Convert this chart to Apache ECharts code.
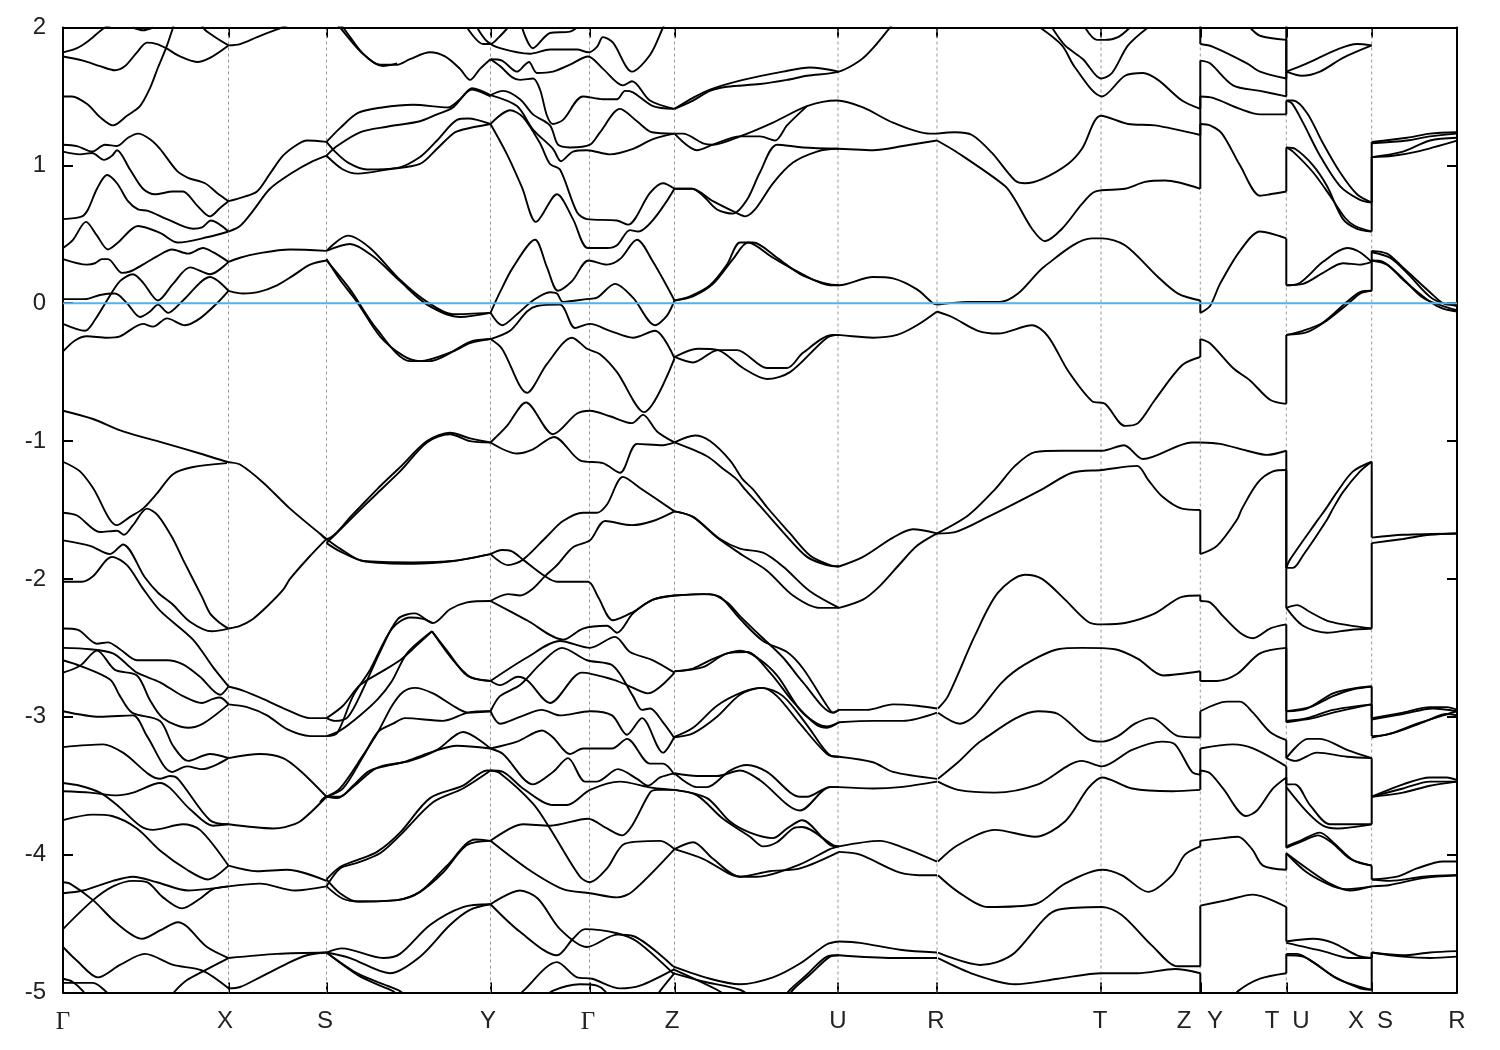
<!DOCTYPE html>
<html><head><meta charset="utf-8">
<style>html,body{margin:0;padding:0;background:#fff}#c{width:1500px;height:1050px}</style>
<script src="https://cdn.jsdelivr.net/npm/echarts@6/dist/echarts.min.js"></script>
</head><body><div id="c"></div>
<script>
// k-path nodes (path distance) and energy ticks
const nodeK=[165.5,263.5,427.5,526.5,611.5,775,874,1038,1137.3,1223.3,1308.7];
const tickK=[0,165.5,263.5,427.5,526.5,611.5,775,874,1038,1137.3,1223.3,1308.7,1394];
const labelK=[0,162,262,425,525,609,775,873,1037,1121,1152,1209,1238,1293,1322,1394];
const labelText=['Γ','X','S','Y','Γ','Z','U','R','T','Z','Y','T','U','X','S','R'];
// Γ-X
const gx1=[0,1.82,14,1.85,25,1.9,42,2,55,2.03];
const gx2=[70,2,80,1.98,90,2];
const gx3=[0,1.79,20,1.76,37,1.72,52,1.69,62,1.72,74,1.82,84,1.89,94,1.88,103,1.85,117,1.79,134,1.75,147,1.78,165.5,1.87];
const gx4=[0,1.5,9,1.5,25,1.44,37,1.35,50,1.29,64,1.36,77,1.43,87,1.56,95,1.71,103,1.85,110,2,116,2.15];
const gx5=[130,2.2,140,2,150,1.94,165.5,1.87];
const gx6=[0,1.15,14,1.14,29,1.1,42,1.15,54,1.14,65,1.2,75,1.23,87,1.19,97,1.12,114,.96,125,.91,142,.87,154,.8,165.5,.74];
const gx7=[0,1.1,17,1.08,29,1.09,41,1.04,49,1.07,54,1.11,67,.97,80,.83,92,.79,110,.81,120,.81,134,.71,147,.63,157,.69,165.5,.74];
const gx8=[0,.61,19,.63,25,.68,34,.83,44,.93,54,.87,65,.74,75,.68,85,.67,104,.61,130,.54,139,.55,148,.6,165.5,.52];
const gx9=[0,.4,10,.46,23,.59,34,.49,45,.39,55,.44,75,.56,97,.51,115,.44,145,.48,165.5,.52];
const gx10=[0,.32,24,.28,32,.29,39,.32,45,.32,59,.22,67,.23,80,.28,94,.34,109,.39,125,.36,140,.4,150,.37,165.5,.3];
const gx11=[0,.03,22,.03,37,.06,52,.07,64,0,77,-.1,87,-.06,95,-.01,105,-.07,120,.02,147,.19,165.5,.09];
const gx12=[0,-.15,22,-.2,32,-.12,44,.02,57,.16,70,.21,80,.15,95,.02,110,.14,127,.26,147,.21,165.5,.3];
const gx13=[0,-.35,12,-.27,24,-.24,44,-.25,57,-.24,80,-.15,90,-.17,104,-.11,122,-.16,137,-.11,154,0,165.5,.09];
const gx14=[0,-.78,30,-.84,60,-.93,104,-1.02,137,-1.09,164,-1.15,177,-1.17,200,-1.3,227,-1.49,263.5,-1.71];
const gx15=[0,-1.15,17,-1.22,30,-1.34,54,-1.61,67,-1.55,80,-1.49,94,-1.38,110,-1.24,129,-1.19,164,-1.16];
const gx16=[0,-1.52,14,-1.54,37,-1.66,54,-1.65,61,-1.68,70,-1.61,84,-1.49,95,-1.54,110,-1.71,120,-1.86,139,-2.13,147,-2.25,157,-2.32,165.5,-2.36];
const gx17=[0,-1.72,27,-1.76,47,-1.82,60,-1.75,82,-1.99,95,-2.1,109,-2.18,127,-2.31,149,-2.38,165.5,-2.36];
const gx18=[0,-2.02,19,-2.02,30,-1.98,49,-1.84,64,-1.9,80,-2.07,97,-2.23,130,-2.44,150,-2.64,165.5,-2.78];
const gx19=[0,-2.36,15,-2.37,34,-2.47,45,-2.46,57,-2.51,74,-2.59,104,-2.59,120,-2.62,137,-2.71,157,-2.84,165.5,-2.78];
const gx20=[0,-2.5,27,-2.51,50,-2.54,64,-2.62,74,-2.68,97,-2.75,120,-2.85,139,-2.9,150,-2.87,157,-2.86,165.5,-2.91];
const gx21=[0,-2.59,17,-2.63,47,-2.73,57,-2.85,69,-2.97,97,-3.03,110,-3.21,125,-3.32,147,-3.27,165.5,-3.3];
const gx22=[0,-2.68,17,-2.63,34,-2.52,52,-2.66,74,-2.7,87,-2.88,100,-3.01,125,-3.08,140,-3.05,165.5,-2.91];
const gx23=[0,-2.96,37,-3,70,-2.99,84,-3.14,109,-3.4,124,-3.36,139,-3.38,165.5,-3.3];
const gx24=[0,-3.22,40,-3.2,60,-3.26,97,-3.45,107,-3.43,115,-3.45,147,-3.75,165.5,-3.78];
const gx25=[0,-3.48,17,-3.5,37,-3.55,54,-3.64,77,-3.79,90,-3.82,120,-3.78,137,-3.82,165.5,-4.08];
const gx26=[0,-3.54,27,-3.55,54,-3.57,70,-3.55,97,-3.48,127,-3.67,150,-3.79,165.5,-3.78];
const gx27=[0,-3.75,30,-3.71,49,-3.72,74,-3.81,97,-3.97,124,-4.11,145,-4.18,154,-4.15,165.5,-4.08];
const gx28=[0,-4.2,7,-4.21,30,-4.33,54,-4.5,79,-4.61,97,-4.55,115,-4.49,144,-4.67,165.5,-4.75];
const gx29=[0,-4.28,20,-4.26,50,-4.19,70,-4.16,94,-4.2,125,-4.26,144,-4.25,165.5,-4.23];
const gx30=[0,-4.54,30,-4.33,50,-4.23,70,-4.19,84,-4.2,100,-4.31,119,-4.39,137,-4.32,150,-4.25,165.5,-4.23];
const gx31=[0,-4.67,14,-4.77,35,-4.89,57,-4.8,82,-4.72,110,-4.8,139,-4.84,165.5,-4.97];
const gx32=[0,-4.9,9,-4.92,20,-4.99,25,-5.05];
const gx33=[0,-4.93,30,-4.93,44,-5,50,-5.05];
const gx34=[106,-5.05,112,-4.99,124,-4.91,139,-4.85,165.5,-4.75];
// X-S
const xs1=[165.5,1.87,177,1.88,194,1.93,204,1.96,219,2,235,2.05];
const xs2=[165.5,.74,180,.77,194,.81,207,.94,220,1.07,234,1.15,244,1.18,263.5,1.17];
const xs3=[165.5,.52,177,.56,190,.67,207,.83,230,.95,247,1.02,263.5,1.07];
const xs4=[165.5,.09,180,.07,195,.08,214,.13,230,.2,247,.28,263.5,.31];
const xs5=[165.5,.3,177,.33,194,.36,227,.39,263.5,.38];
const xs6=[165.5,-2.36,177,-2.34,190,-2.29,204,-2.2,220,-2.08,227,-2,245,-1.85,263.5,-1.71];
const xs7=[165.5,-2.78,180,-2.81,200,-2.87,224,-2.95,247,-3.01,263.5,-3.01];
const xs8=[165.5,-2.91,184,-2.93,204,-2.99,224,-3.09,247,-3.14,263.5,-3.14];
const xs9=[165.5,-3.3,197,-3.27,220,-3.3,237,-3.39,263.5,-3.58];
const xs10=[165.5,-3.78,210,-3.81,222,-3.8,237,-3.76,263.5,-3.58];
const xs11=[165.5,-4.08,194,-4.12,224,-4.11,263.5,-4.19];
const xs12=[165.5,-4.23,197,-4.21,232,-4.26,263.5,-4.23];
const xs13=[165.5,-4.75,214,-4.72,263.5,-4.71];
const xs14=[165.5,-4.97,177,-4.96,197,-4.89,224,-4.79,244,-4.73,263.5,-4.71];
// S-Y
const sy1=[270,2.05,277,2,297,1.83,317,1.73,334,1.73,347,1.77,367,1.82,382,1.79,397,1.7,407,1.62,417,1.7,427.5,1.77];
const sy2=[272,2.05,280,2,300,1.81,320,1.72,334,1.74];
const sy3=[263.5,1.17,277,1.27,295,1.38,319,1.42,350,1.44,385,1.42,397,1.48,409,1.56,427.5,1.51];
const sy4=[263.5,1.07,274,1.14,297,1.24,324,1.28,357,1.32,374,1.37,390,1.42,409,1.55,427.5,1.5];
const sy5=[263.5,1.17,272,1.1,285,1.02,304,.97,334,.98,357,1.06,374,1.18,394,1.33,405,1.34,427.5,1.3];
const sy6=[263.5,1.07,280,.97,295,.94,324,.97,357,1.01,374,1.12,390,1.23,400,1.26,427.5,1.3];
const sy7=[263.5,.38,285,.49,307,.4,337,.17,364,.01,390,-.08,427.5,-.07];
const sy8=[263.5,.38,287,.43,310,.34,337,.16,364,-.01,397,-.1,427.5,-.07];
const sy9=[263.5,.32,277,.17,294,.01,317,-.24,340,-.38,357,-.42,390,-.35,407,-.29,427.5,-.26];
const sy10=[263.5,.31,287,.1,314,-.19,347,-.42,367,-.42,385,-.37,407,-.28,427.5,-.26];
const sy11=[257,-1.67,263.5,-1.71,290,-1.53,314,-1.35,337,-1.19,364,-1,387,-.94,407,-.98,427.5,-1.01];
const sy12=[263.5,-1.74,290,-1.55,314,-1.38,337,-1.22,364,-1.01,387,-.95,407,-1,427.5,-1.01];
const sy13=[263.5,-1.71,277,-1.78,300,-1.87,350,-1.88,390,-1.87,427.5,-1.82];
const sy14=[263.5,-1.74,277,-1.8,300,-1.87,350,-1.89,390,-1.87,427.5,-1.82];
const sy15=[263.5,-3.01,272,-3.03,285,-3,300,-2.8,317,-2.53,335,-2.29,352,-2.25,370,-2.32,387,-2.22,404,-2.17,427.5,-2.16];
const sy16=[263.5,-3.14,274,-3.12,290,-2.85,307,-2.66,329,-2.36,347,-2.28,360,-2.29,370,-2.32];
const sy17=[263.5,-3.01,280,-2.92,297,-2.77,317,-2.68,337,-2.59,354,-2.48,369,-2.38];
const sy18=[263.5,-3.14,277,-3.1,297,-2.99,315,-2.87,329,-2.74,344,-2.54,369,-2.38];
const sy19=[369,-2.38,384,-2.52,404,-2.7,427.5,-2.74];
const sy20=[369,-2.38,389,-2.58,407,-2.71,427.5,-2.74];
const sy21=[263.5,-3.58,277,-3.52,300,-3.28,315,-3.11,329,-2.92,340,-2.82,352,-2.79,370,-2.83,390,-2.92,405,-2.97,427.5,-2.96];
const sy22=[263.5,-3.58,280,-3.52,300,-3.29,315,-3.11,330,-3.05,342,-3.01,380,-3.03,405,-2.97,427.5,-2.96];
const sy23=[257,-3.62,263.5,-3.58,277,-3.58,290,-3.5,307,-3.39,340,-3.33,367,-3.26,394,-3.21,427.5,-3.23];
const sy24=[263.5,-3.58,274,-3.59,290,-3.51,314,-3.37,347,-3.32,374,-3.24,400,-3.11,427.5,-3.23];
const sy25=[263.5,-4.18,277,-4.09,294,-4.04,314,-3.98,337,-3.84,367,-3.59,400,-3.5,424,-3.39,427.5,-3.39];
const sy26=[263.5,-4.23,277,-4.1,294,-4.06,317,-3.99,337,-3.86,370,-3.62,400,-3.52,427.5,-3.39];
const sy27=[263.5,-4.18,277,-4.28,294,-4.34,334,-4.33,357,-4.27,380,-4.13,404,-3.93,427.5,-3.9];
const sy28=[263.5,-4.23,280,-4.32,297,-4.34,334,-4.33,357,-4.27,384,-4.08,412,-3.89,427.5,-3.9];
const sy29=[263.5,-4.71,279,-4.68,320,-4.75,337,-4.72,367,-4.51,400,-4.38,427.5,-4.36];
const sy30=[263.5,-4.71,287,-4.75,327,-4.86,357,-4.74,387,-4.51,407,-4.4,427.5,-4.36];
const sy31=[263.5,-4.71,294,-4.86,324,-4.95,337,-4.99,345,-5.05];
const sy32=[263.5,-4.71,294,-4.87,317,-4.95,330,-4.99,338,-5.05];
// Y-Γ-Z
const yz1=[404,2,420,1.88,427.5,1.88,436,1.93,445,2];
const yz2=[414,2,424,1.9,437,1.85,467,1.81,487,1.84,514,1.84,525.5,1.82,534,1.86,540,1.93,550,1.89,569,1.68,587,1.8,600,2,606,2.1];
const yz3=[459,2,470,1.85,487,1.96,507,1.97,514,2];
const yz4=[427.5,1.77,439,1.76,454,1.68,462,1.73,466,1.75,474,1.67,490,1.68,507,1.73,525,1.79,540,1.7,560,1.58,569,1.61,587,1.47,611,1.41];
const yz5=[427.5,1.77,437,1.72,449,1.64,457,1.62,470,1.63,477,1.55,484,1.36,490,1.3,500,1.33,520,1.5,540,1.48,554,1.48,562,1.54,570,1.53,590,1.43,611,1.41];
const yz6=[427.5,1.51,440,1.54,457,1.48,470,1.37,487,1.29,495,1.15,507,1.13,527,1.15,537,1.24,557,1.41,574,1.32,589,1.24,611,1.23];
const yz7=[427.5,1.51,454,1.43,470,1.26,490,1.12,498,1.03,510,1.1,524,1.11,547,1.08,570,1.12,590,1.19,611,1.23];
const yz8=[427.5,1.3,447,1.4,460,1.35,477,1.16,487,1.01,497,.97,514,.66,524,.61,554,.6,565,.57,587,.8,600,.87,611.5,.83];
const yz9=[427.5,1.3,444,1.08,459,.84,473,.59,494,.79,510,.61,525,.4,544,.4,554,.42,567,.53,575,.52,611.5,.83];
const yz10=[427.5,-.07,439,-.16,454,-.08,470,.02,487,.08,494,.07,500,.01,524,.03,534,.04,552,.14,570,.04,592,-.16,604,-.09,611.5,.02];
const yz11=[427.5,-.07,437,.08,450,.26,472,.46,484,.26,495,.09,509,.16,525.5,.31,544,.28,557,.32,574,.46,590,.3,611.5,.02];
const yz12=[427.5,-.26,447,-.2,464,-.06,474,-.02,497,-.01,512,-.18,527,-.15,547,-.2,570,-.25,592,-.2,611.5,-.4];
const yz13=[427.5,-.26,439,-.33,464,-.65,484,-.44,509,-.25,524,-.33,537,-.37,554,-.5,581,-.79,611.5,-.4];
const yz14=[427.5,-1.01,444,-.89,463,-.72,490,-.95,514,-.8,527,-.78,547,-.82,569,-.87,580,-.81,594,-.93,611.5,-1.01];
const yz15=[427.5,-1.01,454,-1.09,470,-1.06,491,-.97,517,-1.14,540,-1.16,557,-1.23,574,-1.02,600,-1.03,611.5,-1.01];
const yz16=[427.5,-1.82,439,-1.79,449,-1.8,460,-1.86,482,-1.98,494,-2.02,525,-2.02,535,-2.13,550,-2.3,570,-2.24,590,-2.15,611.5,-2.12];
const yz17=[427.5,-1.82,445,-1.9,460,-1.86,484,-1.69,500,-1.58,520,-1.52,534,-1.52,544,-1.46,560,-1.26,577,-1.34,611.5,-1.51];
const yz18=[427.5,-2.16,445,-2.11,457,-2.12,470,-2.07,482,-1.98,494,-1.9,510,-1.77,527,-1.72,542,-1.58,569,-1.61,590,-1.58,611.5,-1.51];
const yz19=[427.5,-2.16,464,-2.3,500,-2.44,520,-2.36,544,-2.34,554,-2.39,570,-2.25,590,-2.15,611.5,-2.12];
const yz20=[427.5,-2.74,437,-2.77,455,-2.71,465,-2.74,487,-2.9,519,-2.68,550,-2.73,564,-2.77,585,-2.83,611.5,-2.68];
const yz21=[427.5,-2.74,464,-2.57,497,-2.45,527,-2.5,552,-2.42,567,-2.53,590,-2.59,611.5,-2.68];
const yz22=[427.5,-2.96,437,-3.05,457,-3,479,-2.95,497,-2.99,527,-2.96,549,-2.99,564,-3.13,579,-3.01,600,-3.26,611,-3.15];
const yz23=[427.5,-2.96,437,-2.85,457,-2.77,477,-2.62,499,-2.5,524,-2.59,550,-2.63,570,-2.85,579,-2.95,587,-2.94,600,-3.04,611,-3.15];
const yz24=[427.5,-3.23,454,-3.18,479,-3.1,490,-3.15,507,-3.27,520,-3.23,549,-3.23,564,-3.16,587,-3.34,600,-3.34,611.5,-3.42];
const yz25=[427.5,-3.23,440,-3.27,470,-3.49,490,-3.4,505,-3.3,522,-3.47,534,-3.47,555,-3.38,574,-3.45,585,-3.5,597,-3.44,611.5,-3.41];
const yz26=[427.5,-3.39,440,-3.4,460,-3.52,490,-3.64,504,-3.64,527,-3.53,557,-3.47,585,-3.51,594,-3.52,611.5,-3.53];
const yz27=[427.5,-3.39,437,-3.41,470,-3.63,487,-3.81,517,-4.16,527,-4.2,544,-4.1,562,-3.92,597,-3.9,611.5,-3.96];
const yz28=[427.5,-3.9,460,-3.78,487,-3.79,525,-3.74,544,-3.81,559,-3.86,569,-3.79,587,-3.55,594,-3.53,611.5,-3.53];
const yz29=[427.5,-3.9,464,-4.1,500,-4.25,527,-4.28,554,-4.31,569,-4.27,611.5,-3.96];
const yz30=[427.5,-4.36,457,-4.26,475,-4.32,497,-4.54,524,-4.67,554,-4.58,570,-4.59,610,-4.81];
const yz31=[427.5,-4.36,457,-4.56,494,-4.73,510,-4.61,522,-4.54,554,-4.57,574,-4.63,611.5,-4.87];
const yz32=[452,-5.05,460,-4.99,494,-4.78,514,-4.89,529,-4.9,557,-4.97,577,-4.95,611.5,-4.83];
const yz33=[482,-5.05,489,-4.99,517,-4.94,534,-4.95,542,-4.99,547,-5.05];
const yz34=[592,-5.05,597,-4.99,611.5,-4.86];
// Z-U
const zu1=[611.5,1.41,630,1.47,647,1.54,664,1.57,697,1.59,724,1.62,744,1.65,776,1.68,797,1.76,810,1.85,827,2,835,2.08];
const zu2=[611.5,1.41,630,1.49,647,1.55,680,1.62,720,1.68,747,1.71,776,1.68];
const zu3=[611.5,1.23,620,1.23,640,1.16,650,1.15,677,1.21,710,1.31,744,1.43,774,1.47,800,1.42,830,1.31,867,1.23,874,1.23];
const zu4=[611.5,1.23,634,1.11,650,1.15,677,1.21,697,1.21,712,1.18,724,1.29,744,1.43];
const zu5=[611.5,.83,629,.83,650,.74,672,.66,682,.63,692,.68,710,.87,730,1.02,754,1.1,774,1.12,810,1.11,840,1.14,874,1.18];
const zu6=[611.5,.83,629,.83,640,.78,654,.68,670,.65,684,.75,697,.95,714,1.15,740,1.13,776,1.12];
const zu7=[611.5,.02,627,.05,647,.13,664,.28,677,.44,690,.44,714,.33,740,.2,776,.13,810,.19,830,.18,854,.1,870,0,875,-.01];
const zu8=[611.5,.02,630,.05,650,.14,670,.32,685,.44,710,.33,737,.22,767,.13,776,.13];
const zu9=[611.5,-.39,630,-.43,655,-.34,674,-.34,704,-.47,724,-.47,740,-.36,770,-.23,810,-.25,834,-.23,854,-.16,874,-.06];
const zu10=[611.5,-.39,635,-.33,655,-.34,680,-.47,704,-.55,727,-.5,764,-.25,776,-.23];
const zu11=[611.5,-1.01,632,-.96,647,-1,667,-1.14,680,-1.28,690,-1.35,704,-1.48,727,-1.67,747,-1.83,767,-1.9,776,-1.91];
const zu12=[611.5,-1.01,644,-1.11,660,-1.2,674,-1.28,682,-1.35,697,-1.47,720,-1.66,744,-1.84,764,-1.9,776,-1.91];
const zu13=[611.5,-1.51,630,-1.55,654,-1.7,680,-1.83,704,-1.94,730,-2.12,757,-2.21,776,-2.21];
const zu14=[611.5,-1.51,630,-1.55,657,-1.71,677,-1.78,700,-1.81,720,-1.91,747,-2.09,776,-2.21];
const zu15=[611.5,-2.12,647,-2.11,664,-2.17,677,-2.27,697,-2.41,720,-2.57,740,-2.75,770,-2.97,776,-2.95];
const zu16=[611.5,-2.12,640,-2.11,657,-2.13,677,-2.29,700,-2.45,724,-2.53,740,-2.65,764,-2.92,770,-2.97,776,-2.95];
const zu17=[611.5,-2.67,640,-2.64,664,-2.54,684,-2.53,707,-2.68,730,-2.89,752,-3.05,764,-3.08,776,-3.04];
const zu18=[611.5,-2.67,630,-2.65,650,-2.58,677,-2.52,694,-2.57,714,-2.7,737,-2.95,754,-3.05,764,-3.07,776,-3.04];
const zu19=[610,-3.15,630,-3.08,654,-2.92,680,-2.82,699,-2.79,714,-2.85,737,-3.05,764,-3.27,776,-3.29];
const zu20=[610,-3.15,630,-3.12,654,-3,677,-2.84,699,-2.79,720,-2.85,744,-3.06,767,-3.28,776,-3.29];
const zu21=[611.5,-3.41,634,-3.51,644,-3.51,667,-3.39,684,-3.35,704,-3.4,737,-3.58,744,-3.58,767,-3.51,776,-3.51];
const zu22=[611.5,-3.41,634,-3.43,654,-3.43,677,-3.39,697,-3.46,737,-3.68,767,-3.51,776,-3.51];
const zu23=[611.5,-3.53,634,-3.57,660,-3.74,687,-3.87,700,-3.94,714,-3.91,730,-3.81,739,-3.8,770,-3.93,776,-3.94];
const zu24=[611.5,-3.53,644,-3.59,667,-3.76,687,-3.84,710,-3.88,724,-3.81,739,-3.75,767,-3.93,776,-3.94];
const zu25=[611.5,-3.96,630,-3.91,650,-4.03,677,-4.16,707,-4.12,737,-4.1,776,-3.98];
const zu26=[611.5,-3.96,640,-4.03,677,-4.16,694,-4.16,737,-4.07,767,-3.96,776,-3.94];
const zu27=[610,-4.81,647,-4.9,677,-4.94,710,-4.89,737,-4.79,764,-4.65,776,-4.63];
const zu28=[610,-4.86,640,-4.92,677,-4.98,690,-5.05];
const zu29=[610,-4.83,654,-4.98,668,-5.05];
const zu30=[720,-5.05,727,-4.98,744,-4.87,764,-4.74,776,-4.73];
const zu31=[724,-5.05,730,-4.98,747,-4.87,767,-4.74,776,-4.73];
// U-R
const ur2=[776,-1.91,800,-1.84,830,-1.7,850,-1.64,874,-1.67];
const ur3=[776,-2.21,800,-2.15,817,-2.05,837,-1.89,854,-1.76,874,-1.67];
const ur4=[776,-2.95,804,-2.95,830,-2.91,854,-2.92,874,-2.94];
const ur5=[776,-3.04,810,-3.03,840,-3.03,874,-2.97];
const ur6=[776,-3.29,810,-3.33,830,-3.4,874,-3.45];
const ur7=[776,-3.51,810,-3.52,837,-3.51,874,-3.47];
const ur8=[776,-3.94,817,-3.9,837,-3.94,874,-4.05];
const ur9=[776,-3.98,797,-4,837,-4.13,864,-4.15,874,-4.15];
const ur10=[776,-4.63,797,-4.64,837,-4.69,874,-4.71];
const ur11=[776,-4.73,830,-4.75,874,-4.75];
// R-T-Z
const rt1=[875,-.01,905,.01,937,.01,955,.07,982,.27,1029,.47,1039,.47,1062,.42,1095,.19,1115,.07,1137.3,.02];
const rt2=[874,-.06,889,-.1,915,-.2,935,-.22,969,-.16,985,-.24,1005,-.49,1029,-.71,1042,-.73,1062,-.89,1075,-.87,1092,-.7,1119,-.45,1137.3,-.39];
const rt3=[874,1.18,895,1.09,942,.85,952,.75,969,.54,982,.45,999,.54,1019,.72,1032,.81,1062,.83,1082,.88,1102,.89,1137.3,.83];
const rt4=[874,1.23,892,1.24,909,1.22,929,1.09,952,.89,962,.87,979,.9,1005,1.01,1019,1.12,1038,1.36,1065,1.3,1092,1.29,1137.3,1.22];
const rt5=[977,2,999,1.87,1012,1.71,1039,1.5,1062,1.65,1080,1.67,1095,1.62,1119,1.47,1137.3,1.41];
const rt6=[989,2,1002,1.87,1020,1.77,1038,1.63,1049,1.67,1065,1.87,1085,2];
const rt7=[1022,2,1034,1.91,1042,1.91,1055,1.93,1067,2];
const rt8=[874,-1.67,905,-1.54,932,-1.35,952,-1.18,972,-1.08,999,-1.07,1039,-1.07,1061,-1.03,1080,-1.13,1129,-1.01,1137.3,-1.01];
const rt9=[874,-1.67,892,-1.66,925,-1.55,979,-1.35,1009,-1.23,1039,-1.21,1074,-1.18,1085,-1.28,1099,-1.4,1119,-1.49,1137.3,-1.5];
const rt10=[875,-2.94,885,-2.85,912,-2.41,935,-2.1,962,-1.97,979,-2,1002,-2.15,1025,-2.31,1039,-2.33,1062,-2.32,1092,-2.25,1119,-2.13,1137.3,-2.12];
const rt11=[875,-2.97,897,-3.05,912,-2.99,939,-2.75,962,-2.62,995,-2.51,1019,-2.5,1052,-2.51,1075,-2.58,1100,-2.7,1137.3,-2.67];
const rt12=[875,-3.45,895,-3.33,919,-3.17,975,-2.96,995,-2.98,1025,-3.16,1039,-3.18,1055,-3.14,1072,-3.05,1089,-3.01,1115,-3.14,1137.3,-3.15];
const rt13=[875,-3.47,895,-3.53,932,-3.55,975,-3.49,1019,-3.32,1039,-3.36,1069,-3.24,1099,-3.18,1112,-3.2,1129,-3.4,1137.3,-3.42];
const rt14=[875,-4.05,895,-3.93,932,-3.82,972,-3.87,1002,-3.76,1025,-3.52,1039,-3.44,1069,-3.52,1109,-3.54,1137.3,-3.53];
const rt15=[875,-4.15,895,-4.27,925,-4.38,972,-4.36,1002,-4.21,1039,-4.11,1059,-4.15,1085,-4.27,1109,-4.15,1122,-4,1137.3,-3.94];
const rt16=[875,-4.71,917,-4.8,934,-4.78,952,-4.71,982,-4.46,995,-4.4,1039,-4.38,1059,-4.44,1089,-4.66,1115,-4.81,1137.3,-4.81];
const rt17=[875,-4.75,912,-4.87,952,-4.94,995,-4.9,1039,-4.86,1075,-4.86,1112,-4.83,1137.3,-4.86];
// Y-T panel
const yt1=[1137.3,1.88,1150,1.86,1184,1.74,1197,1.68,1223.3,1.63];
const yt2=[1137.3,1.76,1147,1.74,1170,1.58,1197,1.54,1223.3,1.5];
const yt3=[1137.3,1.5,1150,1.49,1177,1.41,1197,1.37,1223.3,1.37];
const yt4=[1137.3,1.3,1147,1.29,1159,1.23,1177,1,1197,.78,1207,.79,1223.3,.81];
const yt5=[1137.3,-.07,1147,-.02,1157,.14,1177,.38,1197,.52,1223.3,.47];
const yt6=[1187,2,1197,1.94,1223.3,1.91];
const yt7=[1137.3,-.26,1147,-.29,1170,-.47,1187,-.56,1207,-.7,1223.3,-.73];
const yt8=[1137.3,-1.01,1157,-1.02,1184,-1.07,1204,-1.1,1223.3,-1.07];
const yt9=[1137.3,-1.82,1154,-1.76,1174,-1.57,1179,-1.49,1195,-1.3,1210,-1.22,1223.3,-1.21];
const yt10=[1137.3,-2.16,1147,-2.17,1160,-2.27,1177,-2.39,1190,-2.43,1207,-2.36,1223.3,-2.33];
const yt11=[1137.3,-2.74,1154,-2.74,1174,-2.69,1197,-2.54,1223.3,-2.5];
const yt12=[1137.3,-2.96,1164,-2.89,1177,-2.89,1190,-2.97,1207,-3.11,1223.3,-3.17];
const yt13=[1137.3,-3.23,1170,-3.2,1190,-3.23,1223.3,-3.36];
const yt14=[1137.3,-3.39,1147,-3.41,1160,-3.52,1183,-3.72,1194,-3.68,1210,-3.52,1223.3,-3.44];
const yt15=[1137.3,-3.9,1160,-3.88,1175,-3.87,1189,-3.96,1200,-4.08,1223.3,-4.11];
const yt16=[1137.3,-4.37,1164,-4.33,1190,-4.29,1223.3,-4.38];
const yt17=[1170,-5.05,1175,-4.99,1197,-4.9,1223.3,-4.86];
// U-X panel
const ux1=[1223.3,1.68,1244,1.74,1274,1.84,1294,1.88,1308.7,1.87];
const ux2=[1223.3,1.68,1239,1.65,1257,1.68,1280,1.78,1308.7,1.87];
const ux3=[1223.3,1.47,1230,1.47,1244,1.38,1260,1.16,1277,.95,1294,.79,1308.7,.73];
const ux4=[1223.3,1.47,1229,1.45,1240,1.31,1257,1.07,1277,.85,1297,.75,1308.7,.73];
const ux5=[1223.3,1.13,1232,1.12,1250,1,1264,.85,1280,.61,1294,.54,1308.7,.52];
const ux6=[1223.3,1.13,1230,1.1,1250,.95,1267,.78,1282,.62,1292,.56,1308.7,.52];
const ux7=[1223.3,.13,1235,.14,1260,.3,1284,.4,1297,.37,1308.7,.3];
const ux8=[1223.3,.13,1240,.14,1260,.22,1280,.29,1297,.28,1308.7,.3];
const ux9=[1223.3,-.23,1240,-.2,1260,-.14,1284,.01,1297,.08,1308.7,.09];
const ux10=[1223.3,-.23,1244,-.21,1263,-.13,1284,-.01,1297,.07,1308.7,.09];
const ux11=[1223.3,-1.92,1227,-1.86,1255,-1.57,1263,-1.49,1274,-1.37,1290,-1.22,1308.7,-1.15];
const ux12=[1223.3,-1.92,1230,-1.92,1240,-1.83,1264,-1.57,1270,-1.49,1280,-1.37,1297,-1.22,1308.7,-1.15];
const ux13=[1223.3,-2.21,1234,-2.19,1247,-2.24,1267,-2.31,1308.7,-2.36];
const ux14=[1223.3,-2.21,1240,-2.34,1264,-2.39,1287,-2.37,1308.7,-2.36];
const ux15=[1223.3,-2.96,1244,-2.94,1270,-2.83,1294,-2.79,1308.7,-2.78];
const ux16=[1223.3,-2.96,1247,-2.93,1270,-2.85,1290,-2.8,1308.7,-2.78];
const ux17=[1223.3,-3.03,1244,-3.01,1270,-2.95,1308.7,-2.91];
const ux18=[1223.3,-3.04,1250,-3.01,1270,-2.97,1308.7,-2.91];
const ux19=[1223.3,-3.3,1245,-3.16,1257,-3.16,1284,-3.24,1308.7,-3.3];
const ux20=[1223.3,-3.3,1232,-3.32,1254,-3.26,1284,-3.29,1308.7,-3.3];
const ux21=[1223.3,-3.49,1232,-3.49,1247,-3.64,1267,-3.78,1287,-3.78,1308.7,-3.78];
const ux22=[1223.3,-3.51,1244,-3.69,1260,-3.79,1274,-3.81,1308.7,-3.78];
const ux23=[1223.3,-3.94,1237,-3.9,1257,-3.84,1270,-3.91,1290,-4.04,1308.7,-4.08];
const ux24=[1223.3,-3.95,1240,-3.9,1255,-3.86,1270,-3.92,1287,-4.03,1308.7,-4.08];
const ux25=[1223.3,-3.99,1244,-4.1,1267,-4.21,1287,-4.26,1308.7,-4.23];
const ux26=[1223.3,-3.99,1244,-4.13,1270,-4.23,1284,-4.25,1308.7,-4.23];
const ux27=[1223.3,-4.63,1250,-4.61,1270,-4.64,1294,-4.73,1308.7,-4.75];
const ux28=[1223.3,-4.64,1260,-4.7,1287,-4.75,1308.7,-4.75];
const ux29=[1223.3,-4.72,1234,-4.72,1250,-4.78,1274,-4.9,1297,-4.96,1308.7,-4.98];
const ux30=[1223.3,-4.73,1240,-4.74,1270,-4.88,1297,-4.97,1308.7,-4.98];
// S-R panel
const sr1=[1308.7,1.17,1344,1.2,1367,1.23,1394,1.24];
const sr2=[1308.7,1.16,1344,1.18,1367,1.21,1394,1.23];
const sr3=[1308.7,1.06,1340,1.1,1367,1.18,1394,1.2];
const sr4=[1308.7,1.06,1330,1.07,1354,1.1,1394,1.18];
const sr5=[1308.7,.38,1324,.36,1337,.28,1367,.08,1384,-.01,1394,-.01];
const sr6=[1308.7,.37,1327,.33,1344,.22,1370,.03,1394,-.02];
const sr7=[1308.7,.31,1320,.3,1337,.2,1360,.04,1384,-.03,1394,-.05];
const sr8=[1308.7,.31,1324,.28,1340,.17,1367,.01,1380,-.04,1394,-.06];
const sr9=[1308.7,-1.7,1340,-1.68,1394,-1.67];
const sr10=[1308.7,-1.74,1340,-1.71,1367,-1.68,1394,-1.67];
const sr11=[1308.7,-3.01,1340,-2.97,1367,-2.93,1384,-2.93,1394,-2.95];
const sr12=[1308.7,-3.02,1340,-2.98,1370,-2.94,1394,-2.96];
const sr13=[1308.7,-3.14,1324,-3.13,1354,-3.05,1380,-2.99,1394,-2.96];
const sr14=[1308.7,-3.15,1334,-3.11,1360,-3.04,1384,-2.98,1394,-2.99];
const sr15=[1308.7,-3.58,1340,-3.49,1367,-3.44,1384,-3.44,1394,-3.46];
const sr16=[1308.7,-3.58,1340,-3.52,1367,-3.47,1394,-3.47];
const sr17=[1308.7,-3.58,1340,-3.55,1367,-3.5,1394,-3.47];
const sr18=[1308.7,-4.18,1334,-4.16,1354,-4.1,1380,-4.05,1394,-4.05];
const sr19=[1308.7,-4.23,1327,-4.22,1360,-4.17,1394,-4.15];
const sr20=[1308.7,-4.18,1327,-4.19,1360,-4.16,1394,-4.15];
const sr21=[1308.7,-4.71,1340,-4.73,1367,-4.71,1394,-4.7];
const sr22=[1308.7,-4.71,1340,-4.74,1367,-4.75,1394,-4.74];
// vertical connections at the panel boundaries: k, energy before, energy after
const jumps=[[1137.3,2.1,1.88],[1137.3,1.41,1.76],[1137.3,1.22,1.5],[1137.3,.83,1.3],[1137.3,.02,-.07],[1137.3,-.39,-.26],[1137.3,-1.5,-1.82],[1137.3,-2.12,-2.16],[1137.3,-2.67,-2.74],[1137.3,-3.15,-2.96],[1137.3,-3.42,-3.23],[1137.3,-3.53,-3.39],[1137.3,-3.94,-3.9],[1137.3,-4.81,-4.37],[1137.3,-4.86,-5.05],
[1223.3,1.91,1.68],[1223.3,1.63,2.1],[1223.3,1.5,1.68],[1223.3,1.37,1.47],[1223.3,.81,1.13],[1223.3,.47,.13],[1223.3,-.73,-.23],[1223.3,-1.07,-1.92],[1223.3,-1.21,-2.21],[1223.3,-2.33,-2.96],[1223.3,-2.5,-3.04],[1223.3,-3.17,-3.3],[1223.3,-3.36,-3.49],[1223.3,-3.44,-3.95],[1223.3,-4.11,-3.99],[1223.3,-4.38,-4.63],[1223.3,-4.86,-4.72],
[1308.7,.73,1.17],[1308.7,.52,1.06],[1308.7,.3,.38],[1308.7,.09,.31],[1308.7,-1.15,-1.7],[1308.7,-2.36,-1.74],[1308.7,-2.78,-3.01],[1308.7,-2.91,-3.14],[1308.7,-3.3,-3.58],[1308.7,-3.78,-3.58],[1308.7,-4.08,-4.18],[1308.7,-4.23,-4.23],[1308.7,-4.75,-4.71],[1308.7,-4.98,-4.71]];
const fermi=[[0,0],[1394,0]];

const curves=[gx1,gx2,gx3,gx4,gx5,gx6,gx7,gx8,gx9,gx10,gx11,gx12,gx13,gx14,gx15,gx16,gx17,gx18,gx19,gx20,gx21,gx22,gx23,gx24,gx25,gx26,gx27,gx28,gx29,gx30,gx31,gx32,gx33,gx34,
xs1,xs2,xs3,xs4,xs5,xs6,xs7,xs8,xs9,xs10,xs11,xs12,xs13,xs14,
sy1,sy2,sy3,sy4,sy5,sy6,sy7,sy8,sy9,sy10,sy11,sy12,sy13,sy14,sy15,sy16,sy17,sy18,sy19,sy20,sy21,sy22,sy23,sy24,sy25,sy26,sy27,sy28,sy29,sy30,sy31,sy32,
yz1,yz2,yz3,yz4,yz5,yz6,yz7,yz8,yz9,yz10,yz11,yz12,yz13,yz14,yz15,yz16,yz17,yz18,yz19,yz20,yz21,yz22,yz23,yz24,yz25,yz26,yz27,yz28,yz29,yz30,yz31,yz32,yz33,yz34,
zu1,zu2,zu3,zu4,zu5,zu6,zu7,zu8,zu9,zu10,zu11,zu12,zu13,zu14,zu15,zu16,zu17,zu18,zu19,zu20,zu21,zu22,zu23,zu24,zu25,zu26,zu27,zu28,zu29,zu30,zu31,
ur2,ur3,ur4,ur5,ur6,ur7,ur8,ur9,ur10,ur11,
rt1,rt2,rt3,rt4,rt5,rt6,rt7,rt8,rt9,rt10,rt11,rt12,rt13,rt14,rt15,rt16,rt17,
yt1,yt2,yt3,yt4,yt5,yt6,yt7,yt8,yt9,yt10,yt11,yt12,yt13,yt14,yt15,yt16,yt17,
ux1,ux2,ux3,ux4,ux5,ux6,ux7,ux8,ux9,ux10,ux11,ux12,ux13,ux14,ux15,ux16,ux17,ux18,ux19,ux20,ux21,ux22,ux23,ux24,ux25,ux26,ux27,ux28,ux29,ux30,
sr1,sr2,sr3,sr4,sr5,sr6,sr7,sr8,sr9,sr10,sr11,sr12,sr13,sr14,sr15,sr16,sr17,sr18,sr19,sr20,sr21,sr22];

function pairs(f){const o=[];for(let i=0;i<f.length;i+=2)o.push([f[i],f[i+1]]);return o;}
const series=[];
nodeK.forEach(k=>series.push({type:'line',data:[[k,-5],[k,2]],showSymbol:false,silent:true,z:1,lineStyle:{color:'#999',width:1,type:[3,3]}}));
curves.forEach(c=>series.push({type:'line',data:pairs(c),showSymbol:false,silent:true,z:3,smooth:0.3,lineStyle:{color:'#000',width:1.9}}));
jumps.forEach(j=>series.push({type:'line',data:[[j[0],j[1]],[j[0],j[2]]],showSymbol:false,silent:true,z:3,lineStyle:{color:'#000',width:2}}));
series.push({type:'line',data:fermi,showSymbol:false,silent:true,z:4,lineStyle:{color:'#56b1e6',width:2}});

const lineSt={show:true,onZero:false,lineStyle:{color:'#000',width:2}};
const tickSt={show:true,inside:true,length:10,lineStyle:{color:'#000',width:2}};
const chart=echarts.init(document.getElementById('c'),null,{renderer:'canvas'});
chart.setOption({animation:false,backgroundColor:'#fff',
 grid:{left:63,right:43,top:27.5,bottom:57.5,containLabel:false},
 xAxis:[
  {type:'value',min:0,max:1394,position:'bottom',axisLine:lineSt,splitLine:{show:false},
   axisTick:Object.assign({},tickSt,{customValues:tickK}),
   axisLabel:{show:true,customValues:labelK,margin:17,fontFamily:'Liberation Sans',fontSize:24,color:'#222',hideOverlap:false,showMinLabel:true,showMaxLabel:true,
    formatter:v=>{const t=labelText[labelK.indexOf(v)];return t==='Γ'?'{g|Γ}':t;},
    rich:{g:{fontFamily:'Liberation Serif',fontSize:25,color:'#222'}}}},
  {type:'value',min:0,max:1394,position:'top',axisLine:lineSt,splitLine:{show:false},
   axisTick:Object.assign({},tickSt,{customValues:tickK}),axisLabel:{show:false}}
 ],
 yAxis:[
  {type:'value',min:-5,max:2,interval:1,position:'left',axisLine:lineSt,axisTick:tickSt,splitLine:{show:false},
   axisLabel:{margin:17,fontFamily:'Liberation Sans',fontSize:24,color:'#222'}},
  {type:'value',min:-5,max:2,interval:1,position:'right',axisLine:lineSt,axisTick:tickSt,splitLine:{show:false},axisLabel:{show:false}}
 ],
 series:series});
</script></body></html>
